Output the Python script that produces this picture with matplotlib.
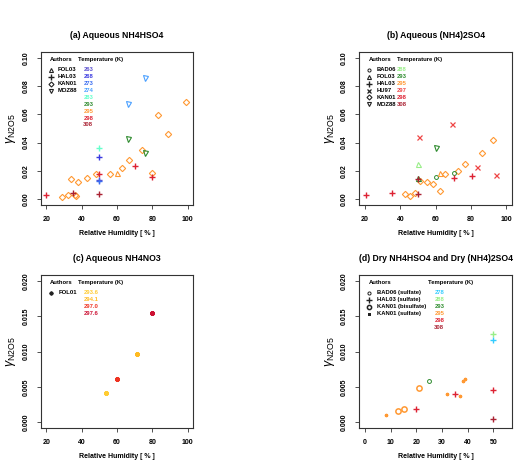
import matplotlib
matplotlib.use("Agg")
import matplotlib.pyplot as plt

plt.rcParams["font.family"] = ["Liberation Sans", "DejaVu Sans"]
plt.rcParams["mathtext.fontset"] = "custom"
plt.rcParams["mathtext.rm"] = "Liberation Sans"
plt.rcParams["mathtext.it"] = "Liberation Sans:italic"

# temperature colours (K)
tcol = {
    263: "#5a4fcf", 268: "#3a3ae0", 273: "#3a6df0", 274: "#4aa0ff",
    278: "#33ccff", 283: "#66ffcc", 288: "#99ee88", 293: "#2e8b2e",
    295: "#ff9933", 297: "#ee4444", 298: "#dd2233", 308: "#aa2233",
    "293.6": "#ffcc33", "294.1": "#ffbb22", "297.0": "#ee3322", "297.6": "#cc1133",
}

# ---- (a) Aqueous NH4HSO4
a_fol03_rh = [60]
a_fol03_g = [0.0188]
a_fol03_t = [295]
a_hal03_rh = [20, 35, 50, 50, 50, 50, 50, 70, 80]
a_hal03_g = [0.0031, 0.0042, 0.0179, 0.0301, 0.0136, 0.0130, 0.0035, 0.0238, 0.0158]
a_hal03_t = [298, 308, 298, 268, 263, 273, 308, 298, 298]
a_hal03b_rh = [50]
a_hal03b_g = [0.0362]
a_hal03b_t = [283]
a_kan01_rh = [29, 32, 34, 36, 37, 38, 43, 48, 56, 63, 67, 74, 79.6, 83, 89, 99]
a_kan01_g = [0.0012, 0.003, 0.0141, 0.0028, 0.0019, 0.0118, 0.015, 0.0179, 0.0179,
             0.0219, 0.028, 0.0351, 0.0186, 0.0598, 0.0461, 0.069]
a_moz88_rh = [66, 76, 66, 76]
a_moz88_g = [0.0424, 0.033, 0.0671, 0.0856]
a_moz88_t = [293, 293, 274, 274]
a_temps = [263, 268, 273, 274, 283, 293, 295, 298, 308]

# ---- (b) Aqueous (NH4)2SO4
b_bad06_rh = [60.4, 70.4]
b_bad06_g = [0.016, 0.0188]
b_bad06_t = [293, 293]
b_fol03_rh = [50, 50, 62.5]
b_fol03_g = [0.0249, 0.0153, 0.0184]
b_fol03_t = [288, 293, 295]
b_hal03_rh = [20.4, 35.5, 50, 50, 70.4, 80.4]
b_hal03_g = [0.0028, 0.0045, 0.0141, 0.004, 0.0148, 0.0162]
b_hal03_t = [298, 298, 308, 308, 298, 298]
b_hu97_rh = [50.4, 69.2, 83.4, 94]
b_hu97_g = [0.0438, 0.0529, 0.0231, 0.0169]
b_kan01_rh = [42.5, 45.5, 48.5, 51.4, 55.3, 58.3, 62.5, 65.5, 72.5, 76.4, 86.4, 92.5]
b_kan01_g = [0.004, 0.0024, 0.0042, 0.0129, 0.0122, 0.0108, 0.0059, 0.0179,
             0.0198, 0.0249, 0.0329, 0.0419]
b_moz88_rh = [60.4]
b_moz88_g = [0.0362]
b_temps = [288, 293, 295, 297, 298, 308]

# ---- (c) Aqueous NH4NO3
c_fol01_rh = [53.8, 60, 71.3, 79.6]
c_fol01_g = [0.00419, 0.00616, 0.00964, 0.01543]
c_fol01_t = ["293.6", "297.0", "294.1", "297.6"]
c_temps = ["293.6", "294.1", "297.0", "297.6"]

# ---- (d) Dry NH4HSO4 and Dry (NH4)2SO4
d_bad06_rh = [25.1]
d_bad06_g = [0.0058]
d_hal03_rh = [20, 35.1, 50, 50, 50, 50]
d_hal03_g = [0.0018, 0.00405, 0.0125, 0.0117, 0.00456, 0.00038]
d_hal03_t = [298, 298, 288, 278, 298, 308]
d_kanbi_rh = [13, 15.1, 21]
d_kanbi_g = [0.00155, 0.00188, 0.00485]
d_kansu_rh = [8.05, 32.1, 37, 38.1, 39]
d_kansu_g = [0.00099, 0.00405, 0.0037, 0.0058, 0.0061]
d_temps = [278, 288, 293, 295, 298, 308]

ast = (8, 2, 0)
MK = {
    "tri": dict(marker="^", ms=3.6, mfc="none", mew=0.8),
    "plus": dict(marker="+", ms=5, mew=1.0),
    "dia": dict(marker="D", ms=3.2, mfc="none", mew=0.8),
    "tdn": dict(marker="v", ms=3.6, mfc="none", mew=0.8),
    "circ": dict(marker="o", ms=2.8, mfc="none", mew=0.7),
    "x": dict(marker="x", ms=3.6, mew=0.9),
    "oct": dict(marker="o", ms=3.8, mfc="none", mew=1.1),
    "ast": dict(marker=ast, ms=3.4, mew=1.0),
    "dot": dict(marker=ast, ms=2.4, mew=0.9),
}


def pts(ax, rh, g, temps, kind):
    for x, y, t in zip(rh, g, temps):
        ax.plot([x], [y], ls="none", color=tcol[t], **MK[kind])


fig = plt.figure(figsize=(5.21, 4.68), dpi=100)
W, H = 521, 468


def make_ax(x0, y0, title, xlim, xt, ylim, yt, yfmt):
    ax = fig.add_axes([x0 / W, 1 - (y0 + 152.5) / H, 152.6 / W, 152.5 / H])
    ax.set_xlim(*xlim)
    ax.set_ylim(*ylim)
    ax.set_xticks(xt)
    ax.set_yticks(yt)
    ax.set_xticklabels([str(v) for v in xt], fontsize=5, fontweight="bold")
    ax.set_yticklabels([yfmt % v for v in yt], fontsize=5, fontweight="bold",
                       rotation=90, va="center")
    ax.tick_params(length=3, width=0.6, pad=5, color="#333333")
    for s in ax.spines.values():
        s.set_linewidth(0.8)
        s.set_color("#333333")
    ax.set_title(title, fontsize=6.2, fontweight="bold", pad=10)
    ax.set_xlabel("Relative Humidity [ % ]", fontsize=5, fontweight="bold", labelpad=5)
    ax.set_ylabel(r"$\gamma_{\mathrm{N2O5}}$", fontsize=9, labelpad=3)
    return ax


def legend(ax, authors, temps, xa, xn, xth, xt):
    h = 152.5
    kw = dict(transform=ax.transAxes, fontsize=4.2, fontweight="bold", va="center")
    ax.text(xa / 152.6, 1 - 7.5 / h, "Authors", **kw)
    ax.text(xth / 152.6, 1 - 7.5 / h, "Temperature (K)", **kw)
    for i, (name, kind) in enumerate(authors):
        y = 1 - (17.5 + 6.9 * i) / h
        m = dict(MK[kind])
        m["ms"] = m["ms"] * 0.8
        ax.plot([(xa + 0.5) / 152.6], [y], transform=ax.transAxes, color="#222222",
                ls="none", clip_on=False, **m)
        ax.text(xn / 152.6, y, name, **kw)
    for i, t in enumerate(temps):
        y = 1 - (17.5 + 6.9 * i) / h
        ax.text(xt / 152.6, y, str(t), color=tcol[t], **kw)


# (a)
ax = make_ax(40.7, 52.3, "(a) Aqueous NH4HSO4", (16.8, 103.2), [20, 40, 60, 80, 100],
             (-0.004, 0.104), [0.0, 0.02, 0.04, 0.06, 0.08, 0.10], "%.2f")
pts(ax, a_kan01_rh, a_kan01_g, [295] * len(a_kan01_rh), "dia")
pts(ax, a_fol03_rh, a_fol03_g, a_fol03_t, "tri")
pts(ax, a_hal03_rh, a_hal03_g, a_hal03_t, "plus")
pts(ax, a_hal03b_rh, a_hal03b_g, a_hal03b_t, "plus")
pts(ax, a_moz88_rh, a_moz88_g, a_moz88_t, "tdn")
legend(ax, [("FOL03", "tri"), ("HAL03", "plus"), ("KAN01", "dia"), ("MOZ88", "tdn")],
       a_temps, 9.3, 17.3, 37, 42.6)

# (b)
ax = make_ax(359.3, 52.3, "(b) Aqueous (NH4)2SO4", (16.8, 103.2), [20, 40, 60, 80, 100],
             (-0.004, 0.104), [0.0, 0.02, 0.04, 0.06, 0.08, 0.10], "%.2f")
pts(ax, b_kan01_rh, b_kan01_g, [295] * len(b_kan01_rh), "dia")
pts(ax, b_bad06_rh, b_bad06_g, b_bad06_t, "circ")
pts(ax, b_fol03_rh, b_fol03_g, b_fol03_t, "tri")
pts(ax, b_hal03_rh, b_hal03_g, b_hal03_t, "plus")
pts(ax, b_hu97_rh, b_hu97_g, [297] * len(b_hu97_rh), "x")
pts(ax, b_moz88_rh, b_moz88_g, [293], "tdn")
legend(ax, [("BAD06", "circ"), ("FOL03", "tri"), ("HAL03", "plus"), ("HU97", "x"),
            ("KAN01", "dia"), ("MOZ88", "tdn")], b_temps, 9.5, 17.4, 37.4, 37.4)

# (c)
ax = make_ax(40.7, 275.3, "(c) Aqueous NH4NO3", (16.8, 103.2), [20, 40, 60, 80, 100],
             (-0.0008, 0.0208), [0.0, 0.005, 0.010, 0.015, 0.020], "%.3f")
pts(ax, c_fol01_rh, c_fol01_g, c_fol01_t, "ast")
legend(ax, [("FOL01", "ast")], c_temps, 9.5, 17.6, 37, 42.6)

# (d)
ax = make_ax(359.3, 275.3, "(d) Dry NH4HSO4 and Dry (NH4)2SO4", (-2.2, 57.2),
             [0, 10, 20, 30, 40, 50],
             (-0.0008, 0.0208), [0.0, 0.005, 0.010, 0.015, 0.020], "%.3f")
pts(ax, d_bad06_rh, d_bad06_g, [293], "circ")
pts(ax, d_hal03_rh, d_hal03_g, d_hal03_t, "plus")
pts(ax, d_kanbi_rh, d_kanbi_g, [295] * len(d_kanbi_rh), "oct")
pts(ax, d_kansu_rh, d_kansu_g, [295] * len(d_kansu_rh), "dot")
legend(ax, [("BAD06 (sulfate)", "circ"), ("HAL03 (sulfate)", "plus"),
            ("KAN01 (bisulfate)", "oct"), ("KAN01 (sulfate)", "dot")],
       d_temps, 9.5, 17.4, 69, 75)

fig.savefig("out.png", dpi=100)
